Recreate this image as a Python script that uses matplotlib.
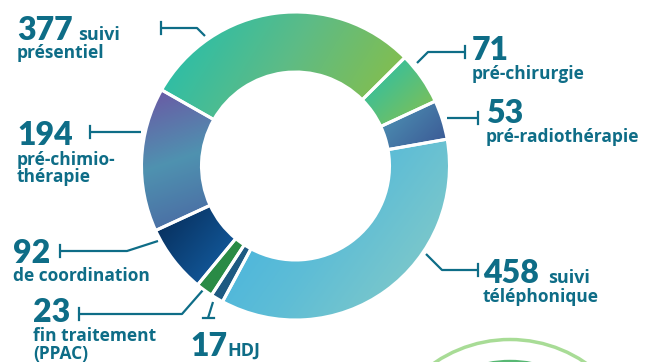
import numpy as np
import matplotlib.pyplot as plt
from matplotlib.colors import LinearSegmentedColormap
from matplotlib.patches import Circle

W, H = 647, 362

# données (sens horaire depuis le haut gauche)
valeurs = [377, 71, 53, 458, 17, 23, 92, 194]
nombres = ['377', '71', '53', '458', '17', '23', '92', '194']
apres = ['suivi', '', '', 'suivi', 'HDJ', '', '', '']
dessous = ['présentiel', 'pré-chirurgie', 'pré-radiothérapie', 'téléphonique',
           '', 'fin traitement\n(PPAC)', 'de coordination', 'pré-chimio-\nthérapie']

# dégradés : couleurs + angle de direction
degrades = [
    (['#1ebfb1', '#5dbb86', '#8dbf40'], -15),
    (['#20bfb2', '#8bc04a'], -45),
    (['#4f97b6', '#3a5593'], -35),
    (['#3db0e2', '#5ebdd6', '#8ccdc4'], -30),
    (['#1e5a82', '#1e5a82'], 0),
    (['#2a8b46', '#2a8b46'], 0),
    (['#062a55', '#1563aa'], -40),
    (['#6c56a4', '#4f92b0', '#4a66a2'], -80),
]

bleu = '#0e6d87'
police_nb = ['Lato', 'DejaVu Sans']
police = ['Open Sans', 'DejaVu Sans']

fig = plt.figure(figsize=(W / 100, H / 100), dpi=100)
ax = fig.add_axes([0, 0, 1, 1])

cx, cy, R = 295.5, H - 166, 154
wedges, _ = ax.pie(valeurs, startangle=150.4, counterclock=False, center=(cx, cy), radius=R,
                   wedgeprops=dict(width=60, edgecolor='white', linewidth=2.2))

n = 200
g = np.linspace(0, 1, n)
X, Y = np.meshgrid(g, g)
for w, (cols, ang) in zip(wedges, degrades):
    w.set_facecolor('none')
    w.set_zorder(3)
    bb = w.get_path().get_extents()
    a = np.deg2rad(ang)
    t = X * np.cos(a) + Y * np.sin(a)
    t = (t - t.min()) / (t.max() - t.min() + 1e-9)
    cmap = LinearSegmentedColormap.from_list('d', cols)
    im = ax.imshow(t, extent=(bb.x0, bb.x1, bb.y0, bb.y1), origin='lower', cmap=cmap,
                   aspect='auto', interpolation='bilinear', zorder=2)
    im.set_clip_path(w)

# cercles décoratifs en bas à droite
ax.add_patch(Circle((510, H - 473.5), 113, color='#58b874', zorder=1))
ax.add_patch(Circle((510, H - 473.5), 134, fill=False, ec='#a8dc96', lw=2.5, zorder=1))

# étiquettes : (x, ligne de base du nombre, ligne de base du texte dessous, x du texte à droite)
pos = [(17, 39.5, 58, 78), (472, 60, 79, 0), (486, 123, 142, 0), (483, 283, 302, 548),
       (190, 356, 0, 227), (33, 322, 341, 0), (13, 263, 281, 0), (17, 145, 165, 0)]
for (x, yb, yd, xa), nb, ap, de in zip(pos, nombres, apres, dessous):
    ax.text(x, H - yb, nb, color=bleu, fontsize=23, fontweight='heavy',
            family=police_nb, va='baseline', ha='left')
    if ap:
        ax.text(xa, H - yb, ap, color=bleu, fontsize=13, fontweight='bold',
                family=police, va='baseline', ha='left')
    if de:
        for i, l in enumerate(de.split('\n')):
            ax.text(x, H - (yd + i * 17.5), l, color=bleu, fontsize=12.5, fontweight='bold',
                    family=police, va='baseline', ha='left')

# traits de rappel (x, y en pixels) et barre d'extrémité
traits = [
    ([205, 197, 161], [36, 28, 28], 'v'),
    ([417, 428, 465], [63, 52, 52], 'v'),
    ([447, 478], [118, 118], 'v'),
    ([426, 442, 478], [254, 270, 270], 'v'),
    ([213, 208], [302, 318], 'h'),
    ([203, 182, 79], [290, 314, 314], 'v'),
    ([158, 127, 60], [241, 251, 251], 'v'),
    ([141, 90], [132, 132], 'v'),
]
for xs, ys, sens in traits:
    ax.plot(xs, [H - y for y in ys], color=bleu, lw=1.6, solid_capstyle='butt')
    ex, ey = xs[-1], H - ys[-1]
    if sens == 'v':
        ax.plot([ex, ex], [ey - 6, ey + 6], color=bleu, lw=1.6)
    else:
        ax.plot([ex - 5.5, ex + 5.5], [ey, ey], color=bleu, lw=1.6)

ax.set_xlim(0, W)
ax.set_ylim(0, H)
ax.axis('off')
fig.savefig('out.png', dpi=100)
